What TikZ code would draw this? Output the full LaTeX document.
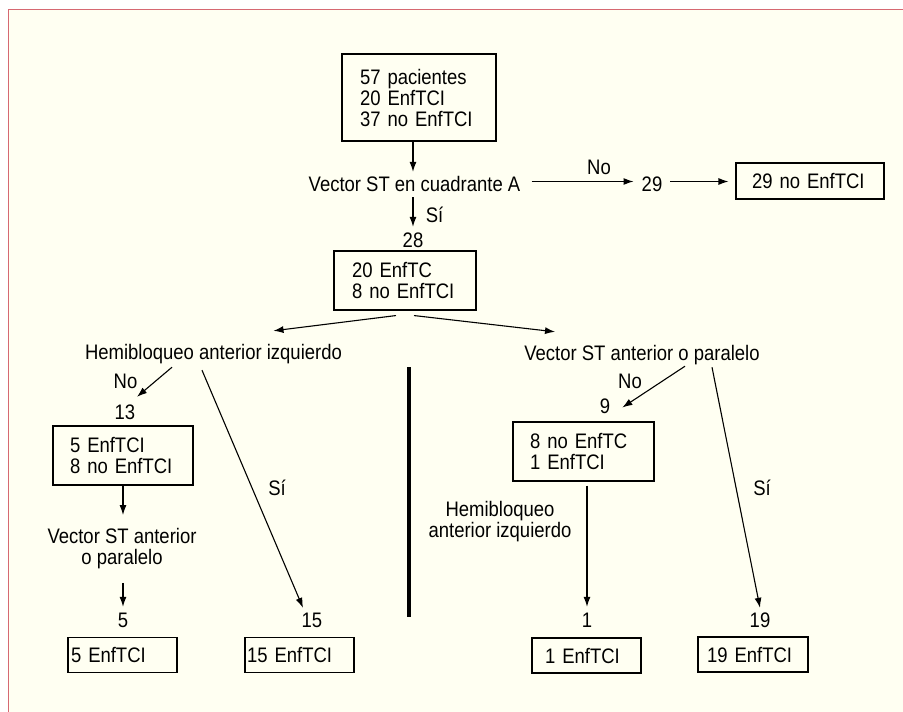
\documentclass[tikz,border=0pt]{standalone}
\usepackage{fontspec}
\setmainfont{Liberation Sans}[FakeStretch=0.88]
\usetikzlibrary{arrows.meta}
\definecolor{paper}{RGB}{255,255,242}
\definecolor{frame}{RGB}{214,104,114}
\newcommand\chartfont{\fontsize{21pt}{21pt}\selectfont}
\begin{document}
\begin{tikzpicture}
[x=1pt,y=-1pt,
  lbl/.style={inner sep=2pt,text height=15pt,text depth=4pt,anchor=base,font=\chartfont},%
  lbltwo/.style={inner sep=2pt,align=center,font=\chartfont},%
  rbox/.style n args={3}{draw,line width=1.1pt,inner ysep=0pt,inner xsep=#3,
    text width=#1,minimum height=#2,align=left,font=\chartfont},%
  arr/.style={-{Latex[length=10pt,width=7pt]},line width=1.1pt}]
\useasboundingbox (0,0) rectangle (903,712);
%% page
\fill[white] (0,0) rectangle (903,712);
\fill[paper] (8.5,9.5) rectangle (903,712);
\draw[frame,line width=1.6pt] (8.5,712) -- (8.5,9.5) -- (903,9.5);
%% boxes
\node (box1) at (419,97.5) [rbox={118pt}{87pt}{18pt}] {57 pacientes\\20 EnfTCI\\37 no EnfTCI};
\node (box29) at (810,181) [rbox={116pt}{36pt}{16pt}] {29 no EnfTCI};
\node (box2) at (405,280.5) [rbox={106pt}{59pt}{18pt}] {20 EnfTC\\8 no EnfTCI};
\node (box3) at (123,455.5) [rbox={106pt}{59pt}{17pt}] {5 EnfTCI\\8 no EnfTCI};
\node (box9) at (583.5,451.5) [rbox={107pt}{59pt}{17pt}] {8 no EnfTC\\1 EnfTCI};
\foreach \nodename/\x/\y/\w/\pad/\txt in {b5/122.5/655/103/3/5, b15/299.5/655/105/2/15,
    b1/586.5/655.5/83/13/1, b19/753/654.5/92/9/19} {
  \node (\nodename) at (\x,\y) [rbox={\w pt}{35pt}{\pad pt}] {\txt\ EnfTCI};
}
%% labels
\foreach \nodename/\x/\y/\txt in {vecA/414.5/191/Vector ST en cuadrante A, no1/599/174/No,
    n29/652/191/29, si1/434.5/222/Sí, n28/413/247/28,
    hemiL/213.5/359/Hemibloqueo anterior izquierdo, vecR/642/360/Vector ST anterior o paralelo,
    noL/125.5/388/No, n13/125/419/13, noR/630/388/No, n9/605/413/9,
    siL/277/495/Sí, siR/762/495/Sí, n5/123/627/5, n15/312/627/15, n1/587/627/1, n19/760/627/19} {
  \node (\nodename) at (\x,\y) [lbl] {\txt};
}
\node (vecL) at (122,548.5) [lbltwo] {Vector ST anterior\\o paralelo};
\node (hemiR) at (500,522) [lbltwo] {Hemibloqueo\\anterior izquierdo};
%% arrows
\draw[arr,shorten >=2pt] ([xshift=-6pt]box1.south) -- ([xshift=-6pt]box1.south |- vecA.north);
\draw[arr,shorten <=9pt,shorten >=6pt] ([yshift=4pt]vecA.east) -- ([yshift=4pt]vecA.east -| n29.west);
\draw[arr,shorten <=6pt,shorten >=7pt] ([yshift=4pt]n29.east) -- ([yshift=4pt]n29.east -| box29.west);
\draw[arr,shorten >=3pt] (vecA.south -| n28.north) -- (n28.north);
\draw[arr] ([xshift=-9pt,yshift=-5pt]box2.south) -- ([xshift=60pt,yshift=11pt]hemiL.north);
\draw[arr] ([xshift=9pt,yshift=-5pt]box2.south) -- ([xshift=-87pt,yshift=11pt]vecR.north);
\draw[arr] ([xshift=-41.5pt,yshift=-2pt]hemiL.south) -- ([xshift=12pt,yshift=5pt]n13.north);
\draw[arr] ([xshift=-11.5pt,yshift=-5pt]hemiL.south) -- ([xshift=-9pt,yshift=2pt]n15.north);
\draw[arr,shorten >=11pt] (box3.south) -- (box3.south |- vecL.north);
\draw[arr,shorten <=12pt,shorten >=3pt] (vecL.south -| n5.north) -- (n5.north);
\draw[arr] ([xshift=43pt]vecR.south) -- ([xshift=10pt]n9.east);
\draw[arr] ([xshift=70pt,yshift=-1pt]vecR.south) -- ([yshift=2pt]n19.north);
\draw[arr,shorten <=4pt,shorten >=3pt] (box9.south -| n1.north) -- (n1.north);
%% divider
\draw[line width=4.5pt] (409,367) -- (409,617);
\end{tikzpicture}
\end{document}
